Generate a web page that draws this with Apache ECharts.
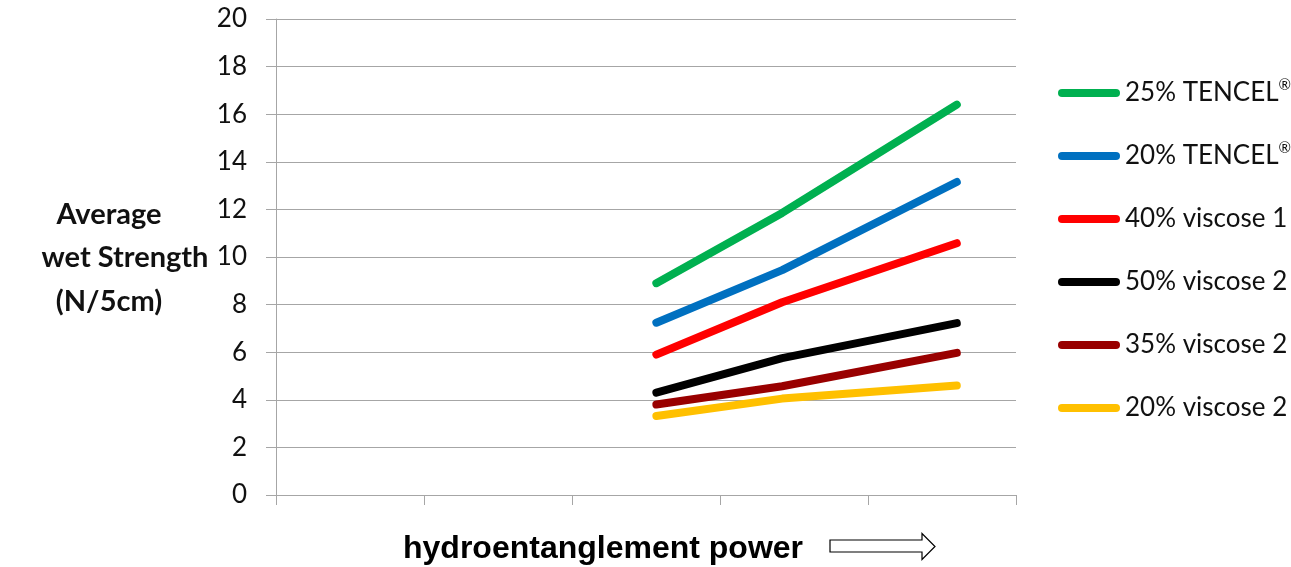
<!DOCTYPE html>
<html>
<head>
<meta charset="utf-8">
<script src="https://cdn.jsdelivr.net/npm/echarts@6/dist/echarts.min.js"></script>
<style>
html,body{margin:0;padding:0;background:#fff;}
#chart{width:1291px;height:567px;}
</style>
</head>
<body>
<div id="chart"></div>
<script>
// x positions (hydroentanglement power, arbitrary units on 0..5 scale)
const powerLevels = [2.57, 3.42, 4.6];
const seriesNames = ['25% TENCEL®', '20% TENCEL®', '40% viscose 1', '50% viscose 2', '35% viscose 2', '20% viscose 2'];
const tencel25 = [8.9, 11.85, 16.4];
const tencel20 = [7.24, 9.45, 13.15];
const viscose1_40 = [5.9, 8.1, 10.58];
const viscose2_50 = [4.3, 5.75, 7.22];
const viscose2_35 = [3.8, 4.57, 5.97];
const viscose2_20 = [3.32, 4.05, 4.6];
const seriesValues = [tencel25, tencel20, viscose1_40, viscose2_50, viscose2_35, viscose2_20];
const seriesColors = ['#00B050', '#0070C0', '#FF0000', '#000000', '#990000', '#FFC000'];
const yTicks = [0, 2, 4, 6, 8, 10, 12, 14, 16, 18, 20];
const yNameLines = ['Average', 'wet Strength', '(N/5cm)'];

const chart = echarts.init(document.getElementById('chart'), null, {renderer: 'canvas'});
const gridCol = '#a6a6a6';
const font = 'Lato, "Open Sans", sans-serif';

const series = seriesNames.map((name, i) => ({
  name: name,
  type: 'line',
  data: powerLevels.map((x, j) => [x, seriesValues[i][j]]),
  symbol: 'none',
  color: seriesColors[i],
  lineStyle: {width: 8, color: seriesColors[i], cap: 'round', join: 'round'},
  emphasis: {disabled: true},
  animation: false
}));

const nameX = [109, 125, 109];
const nameY = [215, 258, 302];
const yNameGraphics = yNameLines.map((t, i) => ({
  type: 'text', x: nameX[i], y: nameY[i],
  style: {
    text: t, fontFamily: font, fontWeight: 'bold', fontSize: 29,
    fill: '#111', align: 'center', verticalAlign: 'middle'
  }
}));

chart.setOption({
  backgroundColor: '#ffffff',
  animation: false,
  grid: {left: 276, right: 275, top: 19, bottom: 72},
  xAxis: {
    type: 'value', min: 0, max: 5, interval: 1,
    axisLine: {show: true, lineStyle: {color: gridCol, width: 1}},
    axisTick: {show: true, length: 10, lineStyle: {color: gridCol}},
    axisLabel: {show: false},
    splitLine: {show: false}
  },
  yAxis: {
    type: 'value', min: yTicks[0], max: yTicks[yTicks.length - 1], interval: 2,
    axisLine: {show: true, lineStyle: {color: gridCol, width: 1}},
    axisTick: {show: true, length: 10, lineStyle: {color: gridCol}},
    axisLabel: {margin: 29, fontFamily: font, fontSize: 26, color: '#111'},
    splitLine: {show: true, lineStyle: {color: gridCol, width: 1}}
  },
  legend: {
    orient: 'vertical',
    left: 1053, top: 73,
    itemWidth: 62, itemHeight: 8,
    itemGap: 33,
    icon: 'path://M4 0H58A4 4 0 0 1 58 8H4A4 4 0 0 1 4 0Z',
    data: seriesNames,
    formatter: function (n) { return n.replace('®', '{r|®}'); },
    textStyle: {
      fontFamily: font, fontSize: 26, color: '#111', lineHeight: 30,
      rich: {r: {fontFamily: font, fontSize: 15, lineHeight: 30, verticalAlign: 'top', padding: [0, 0, 12, 0], color: '#111'}}
    },
    selectedMode: false
  },
  graphic: yNameGraphics.concat([
    {
      type: 'text', x: 403, y: 549,
      style: {
        text: 'hydroentanglement power',
        fontFamily: '"Liberation Sans", Arial, sans-serif', fontWeight: 'bold', fontSize: 32,
        fill: '#000', align: 'left', verticalAlign: 'middle'
      }
    },
    {
      type: 'polygon',
      shape: {points: [[830, 540], [922, 540], [922, 533.5], [935, 546.5], [922, 559.5], [922, 552], [830, 552]]},
      style: {fill: '#fff', stroke: '#000', lineWidth: 1.2}
    }
  ]),
  series: series
});
</script>
</body>
</html>
